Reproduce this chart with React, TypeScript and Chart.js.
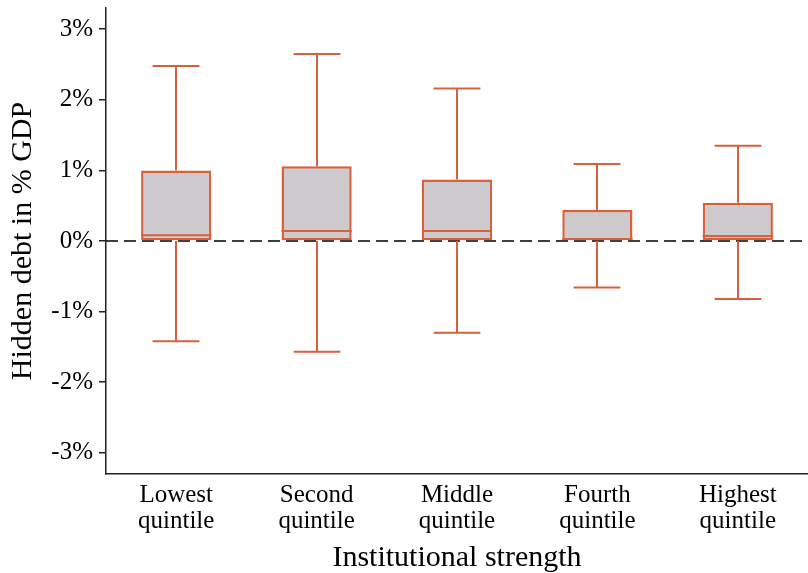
import { useEffect, useRef } from "react";
import { Chart, registerables } from "chart.js";

Chart.register(...registerables);

// ---- data ----
const categories: string[][] = [
  ["Lowest", "quintile"],
  ["Second", "quintile"],
  ["Middle", "quintile"],
  ["Fourth", "quintile"],
  ["Highest", "quintile"],
];
const whiskerLow = [-1.42, -1.57, -1.3, -0.66, -0.82];
const quartile1 = [0, 0, 0, 0, 0];
const medians = [0.08, 0.14, 0.14, 0.03, 0.07];
const quartile3 = [1.0, 1.06, 0.87, 0.44, 0.54];
const whiskerHigh = [2.48, 2.65, 2.16, 1.09, 1.35];
const yTicks = [-3, -2, -1, 0, 1, 2, 3];

const ORANGE = "#D9603D";
const GRAY = "#CCCACD";
const AXIS = "#222222";
const FONT = "'Liberation Serif', 'Times New Roman', serif";

const boxPlugin = {
  id: "boxWhiskers",
  beforeDatasetsDraw(chart: any) {
    const { ctx, chartArea, scales } = chart;
    const y = scales.y;
    const y0 = y.getPixelForValue(0);
    ctx.save();
    ctx.strokeStyle = "#000";
    ctx.lineWidth = 1.6;
    ctx.setLineDash([12, 6]);
    ctx.beginPath();
    ctx.moveTo(chartArea.left, y0);
    ctx.lineTo(chartArea.right, y0);
    ctx.stroke();
    ctx.setLineDash([]);

    const meta = chart.getDatasetMeta(0);
    ctx.strokeStyle = ORANGE;
    ctx.lineWidth = 2;
    meta.data.forEach((bar: any, i: number) => {
      const x = Math.round(bar.x);
      const cap = (bar.width * 2) / 3;
      const yHi = y.getPixelForValue(whiskerHigh[i]);
      const yQ3 = y.getPixelForValue(quartile3[i]);
      const yQ1 = y.getPixelForValue(quartile1[i]);
      const yLo = y.getPixelForValue(whiskerLow[i]);
      ctx.beginPath();
      ctx.moveTo(x, yQ3);
      ctx.lineTo(x, yHi);
      ctx.moveTo(x - cap / 2, yHi);
      ctx.lineTo(x + cap / 2, yHi);
      ctx.moveTo(x, yQ1);
      ctx.lineTo(x, yLo);
      ctx.moveTo(x - cap / 2, yLo);
      ctx.lineTo(x + cap / 2, yLo);
      ctx.stroke();
    });
    ctx.restore();
  },
  afterDatasetsDraw(chart: any) {
    const { ctx, scales } = chart;
    const y = scales.y;
    const meta = chart.getDatasetMeta(0);
    ctx.save();
    ctx.strokeStyle = ORANGE;
    ctx.lineWidth = 2;
    meta.data.forEach((bar: any, i: number) => {
      const ym = y.getPixelForValue(medians[i]);
      ctx.beginPath();
      ctx.moveTo(bar.x - bar.width / 2, ym);
      ctx.lineTo(bar.x + bar.width / 2, ym);
      ctx.stroke();
    });
    ctx.restore();
  },
};

export default function App() {
  const canvasRef = useRef<HTMLCanvasElement | null>(null);

  useEffect(() => {
    const canvas = canvasRef.current;
    if (!canvas) return;
    const chart = new Chart(canvas, {
      type: "bar",
      data: {
        labels: categories,
        datasets: [
          {
            data: quartile1.map((v, i) => [v, quartile3[i]]) as any,
            backgroundColor: GRAY,
            borderColor: ORANGE,
            borderWidth: 2.5,
            borderSkipped: false,
            barPercentage: 0.5,
            categoryPercentage: 1,
          },
        ],
      },
      options: {
        responsive: false,
        animation: false,
        layout: { padding: { top: 8, right: 0, left: 0, bottom: 0 } },
        plugins: {
          legend: { display: false },
          tooltip: { enabled: false },
        },
        scales: {
          x: {
            grid: { display: false },
            border: { display: true, color: AXIS, width: 1.5 },
            ticks: {
              color: "#000",
              font: { family: FONT, size: 25, lineHeight: 1.05 },
              padding: 0,
              maxRotation: 0,
              autoSkip: false,
            },
            title: {
              display: true,
              text: "Institutional strength",
              color: "#000",
              font: { family: FONT, size: 30, lineHeight: 1 },
              padding: { top: 0, bottom: 0 },
            },
            afterFit(scale: any) {
              scale.height = 99;
              scale.paddingRight = 0;
              scale.paddingLeft = 0;
            },
          },
          y: {
            min: -3.3,
            max: 3.3,
            grid: {
              drawOnChartArea: false,
              drawTicks: true,
              tickLength: 7,
              color: AXIS,
              lineWidth: 1.5,
            },
            border: { display: true, color: AXIS, width: 1.5 },
            afterBuildTicks(scale: any) {
              scale.ticks = yTicks.map((v) => ({ value: v }));
            },
            ticks: {
              color: "#000",
              font: { family: FONT, size: 25 },
              padding: 6,
              callback: (v: any) => `${v}%`,
            },
            title: {
              display: true,
              text: "Hidden debt in % GDP",
              color: "#000",
              font: { family: FONT, size: 30, lineHeight: 1.2 },
              padding: { top: 5, bottom: 0 },
            },
            afterFit(scale: any) {
              scale.width = 106;
              scale.paddingTop = 0;
              scale.paddingBottom = 0;
            },
          },
        },
      },
      plugins: [boxPlugin],
    });
    return () => chart.destroy();
  }, []);

  return (
    <div style={{ position: "fixed", left: 0, top: 0, width: 808, height: 573, background: "#fff" }}>
      <canvas ref={canvasRef} width={808} height={573} style={{ display: "block" }} />
    </div>
  );
}
